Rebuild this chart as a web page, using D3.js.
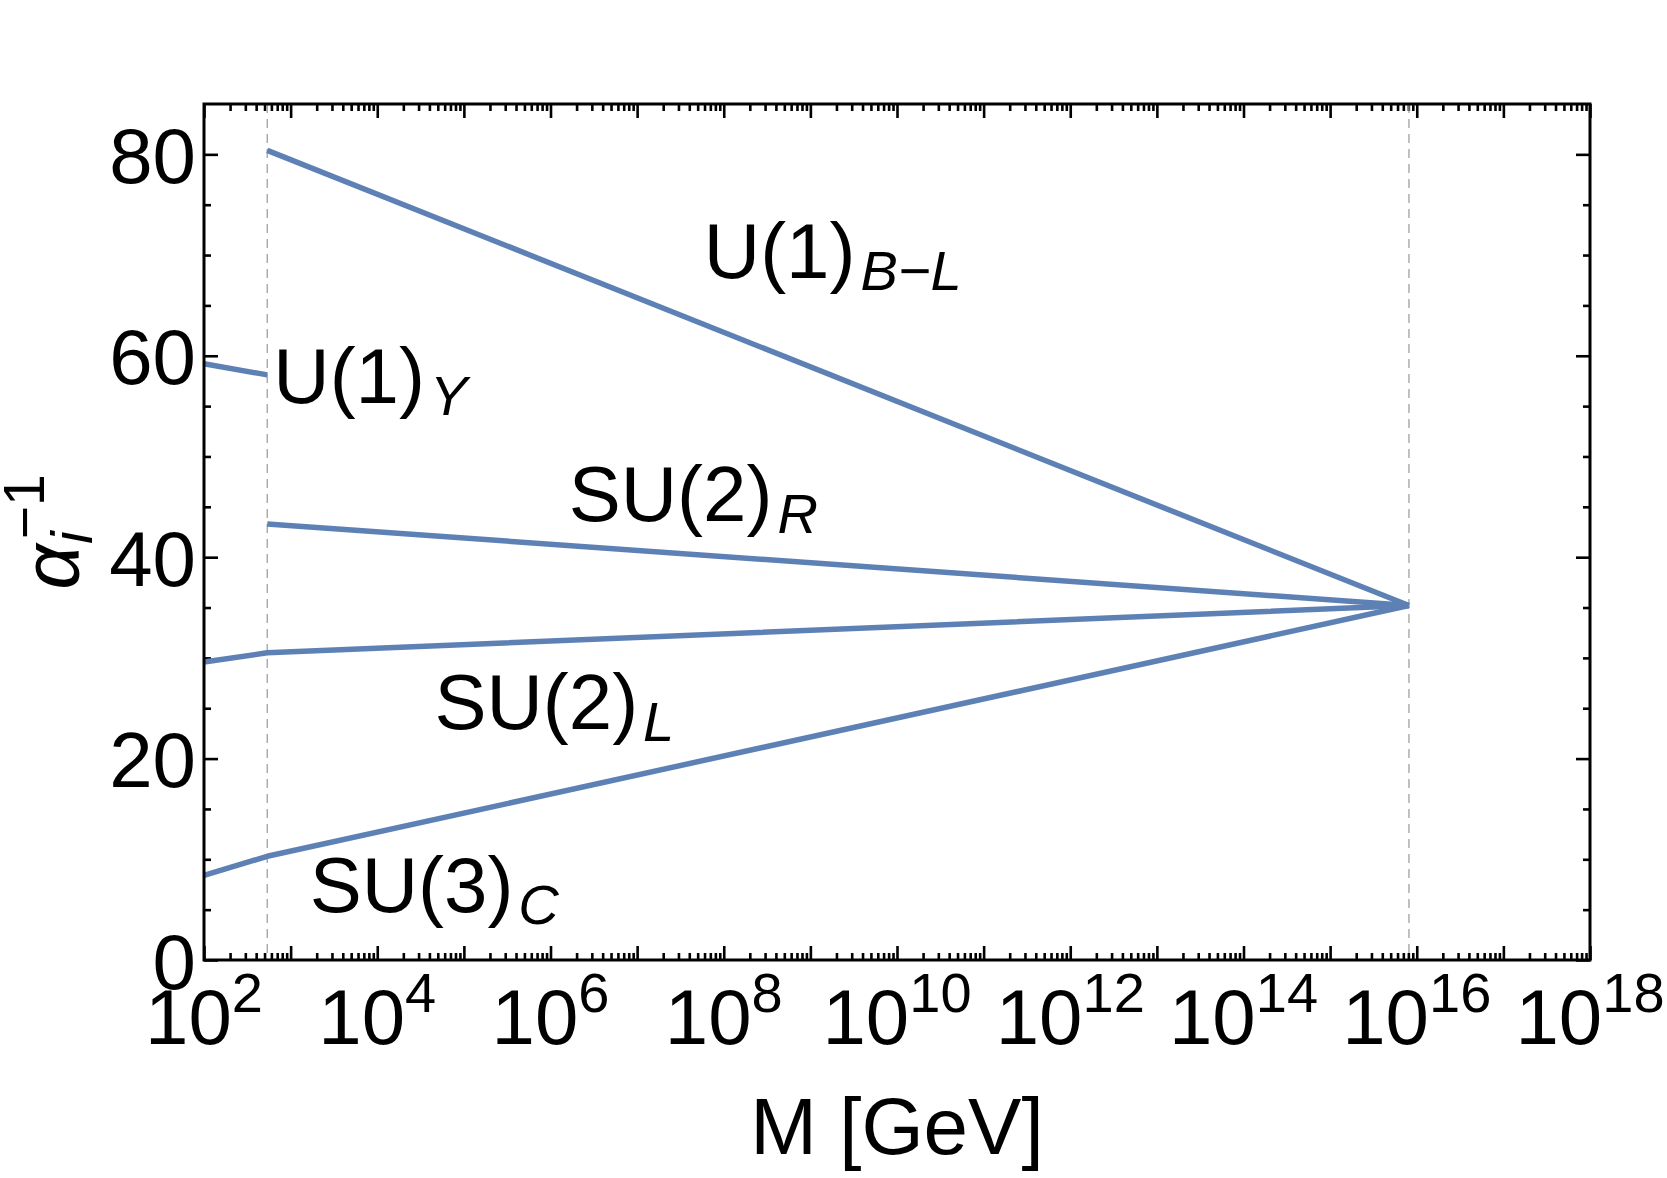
<!DOCTYPE html>
<html>
<head>
<meta charset="utf-8">
<script src="https://cdnjs.cloudflare.com/ajax/libs/d3/7.8.5/d3.min.js"></script>
<style>
  html, body { margin: 0; padding: 0; background: #fff; }
  svg text { font-family: "Liberation Sans", Arial, Helvetica, sans-serif; fill: #000; }
</style>
</head>
<body>
<svg id="chart" width="1667" height="1178"></svg>
<script>
// breaking scales (GeV)
const mR = Math.pow(10, 2.73);
const mGUT = Math.pow(10, 15.91);

// inverse couplings, [M, alpha^-1]
const u1Y = [[1e2, 59.2], [mR, 58.1]];
const su2L = [[1e2, 29.6], [mR, 30.5], [mGUT, 35.2]];
const su3C = [[1e2, 8.4], [mR, 10.3], [mGUT, 35.2]];
const su2R = [[mR, 43.3], [mGUT, 35.2]];
const u1BL = [[mR, 80.4], [mGUT, 35.2]];

const xLabelExps = [2, 4, 6, 8, 10, 12, 14, 16, 18];
const yTicks = [0, 20, 40, 60, 80];

// curve labels: [main, sub, M, alpha^-1 at baseline]
const labels = [
  ["U(1)", "B\u2212L", Math.pow(10, 7.77), 67.7],
  ["U(1)", "Y", Math.pow(10, 2.8), 55.3],
  ["SU(2)", "R", Math.pow(10, 6.21), 43.6],
  ["SU(2)", "L", Math.pow(10, 4.66), 22.9],
  ["SU(3)", "C", Math.pow(10, 3.22), 4.8]
];

const blue = "#5e81b5";
const pL = 204, pR = 1590, pT = 104, pB = 960;

const svg = d3.select("#chart");

const x = d3.scaleLog().domain([1e2, 1e18]).range([pL, pR]);
const y = d3.scaleLinear().domain([0, 85]).range([pB, pT]);

// tick values
let majorX = d3.range(2, 19).map(k => Math.pow(10, k));
let minorX = [];
for (let k = 2; k < 18; k++) {
  for (let m = 2; m <= 9; m++) minorX.push(m * Math.pow(10, k));
}
let minorY = d3.range(5, 85, 5).filter(v => v % 20 !== 0);

function tickAxis(axisFn, scale, vals, size) {
  return axisFn(scale).tickValues(vals).tickSize(-size).tickFormat("");
}

function drawAxis(g) {
  g.select(".domain").remove();
  g.selectAll(".tick line").attr("stroke", "#000").attr("stroke-width", 2.6);
}

// bottom / top
svg.append("g").attr("transform", `translate(0,${pB})`)
  .call(tickAxis(d3.axisBottom, x, majorX, 14)).call(drawAxis);
svg.append("g").attr("transform", `translate(0,${pB})`)
  .call(tickAxis(d3.axisBottom, x, minorX, 7)).call(drawAxis);
svg.append("g").attr("transform", `translate(0,${pT})`)
  .call(tickAxis(d3.axisTop, x, majorX, 14)).call(drawAxis);
svg.append("g").attr("transform", `translate(0,${pT})`)
  .call(tickAxis(d3.axisTop, x, minorX, 7)).call(drawAxis);

// left / right
svg.append("g").attr("transform", `translate(${pL},0)`)
  .call(d3.axisLeft(y).tickValues(yTicks).tickSize(-14).tickPadding(8))
  .call(drawAxis)
  .call(g => g.selectAll(".tick text").attr("font-size", 78).attr("dy", "0.36em")
    .attr("font-family", "Liberation Sans, Arial, sans-serif").attr("fill", "#000"));
svg.append("g").attr("transform", `translate(${pL},0)`)
  .call(tickAxis(d3.axisLeft, y, minorY, 7)).call(drawAxis);
svg.append("g").attr("transform", `translate(${pR},0)`)
  .call(tickAxis(d3.axisRight, y, yTicks, 14)).call(drawAxis);
svg.append("g").attr("transform", `translate(${pR},0)`)
  .call(tickAxis(d3.axisRight, y, minorY, 7)).call(drawAxis);

// x tick labels 10^k
let xl = svg.append("g").selectAll("text").data(xLabelExps).join("text")
  .attr("x", d => x(Math.pow(10, d)))
  .attr("y", 1044)
  .attr("text-anchor", "middle")
  .attr("font-size", 78);
xl.append("tspan").text("10");
xl.append("tspan").attr("font-size", 56).attr("dy", -32).text(d => d);

// threshold lines
svg.append("g").selectAll("line").data([mR, mGUT]).join("line")
  .attr("x1", d => x(d)).attr("x2", d => x(d))
  .attr("y1", pT).attr("y2", pB)
  .attr("stroke", "#a0a0a0").attr("stroke-width", 1.3)
  .attr("stroke-dasharray", "9,6");

// running couplings
const line = d3.line().x(d => x(d[0])).y(d => y(d[1]));
svg.append("g").selectAll("path").data([u1Y, su2L, su3C, su2R, u1BL]).join("path")
  .attr("d", line)
  .attr("fill", "none")
  .attr("stroke", blue)
  .attr("stroke-width", 5.5)
  .attr("stroke-linejoin", "round");

// frame
svg.append("rect")
  .attr("x", pL).attr("y", pT)
  .attr("width", pR - pL).attr("height", pB - pT)
  .attr("fill", "none").attr("stroke", "#000").attr("stroke-width", 3);

// curve labels
let cl = svg.append("g").selectAll("text").data(labels).join("text")
  .attr("x", d => x(d[2]))
  .attr("y", d => y(d[3]))
  .attr("font-size", 78);
cl.append("tspan").text(d => d[0]);
cl.append("tspan").attr("font-size", 56).attr("font-style", "italic")
  .attr("dx", 5).attr("dy", 12).text(d => d[1]);

// axis titles
svg.append("text")
  .attr("x", (pL + pR) / 2).attr("y", 1154)
  .attr("text-anchor", "middle").attr("font-size", 80)
  .text("M [GeV]");

let yt = svg.append("text")
  .attr("transform", `translate(78,${(pT + pB) / 2}) rotate(-90)`)
  .attr("text-anchor", "middle").attr("font-size", 80);
yt.append("tspan").attr("font-style", "italic").text("\u03b1");
yt.append("tspan").attr("font-size", 57).attr("font-style", "italic").attr("dy", 14).text("i");
yt.append("tspan").attr("font-size", 57).attr("dx", -8).attr("dy", -48).text("\u22121");
</script>
</body>
</html>
